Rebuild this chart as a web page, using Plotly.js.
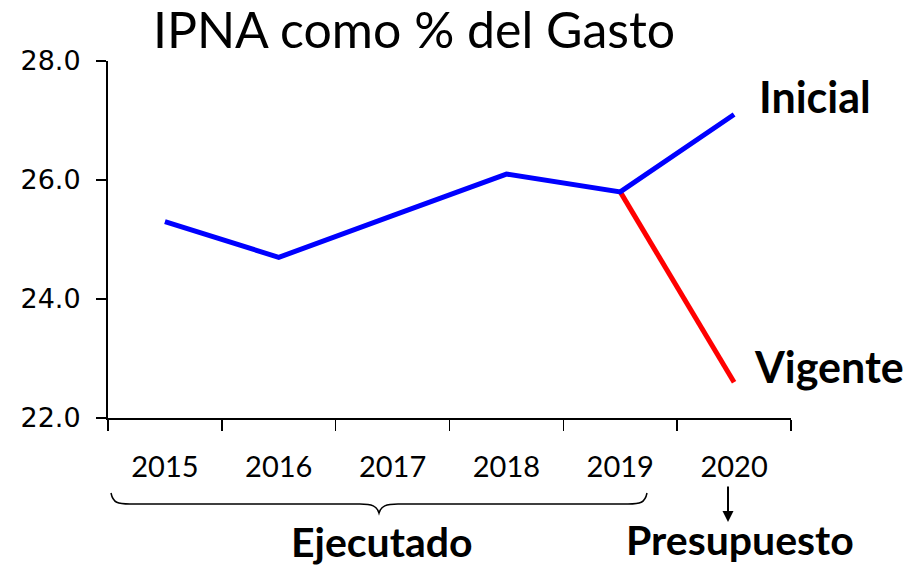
<!DOCTYPE html>
<html>
<head>
<meta charset="utf-8">
<script src="https://cdn.plot.ly/plotly-3.0.1.min.js"></script>
<style>html,body{margin:0;padding:0;background:#fff;}#chart{width:920px;height:568px;}</style>
</head>
<body>
<div id="chart"></div>
<script>
// Data
var years = ['2015', '2016', '2017', '2018', '2019', '2020'];
var inicialValues = [25.3, 24.7, 25.4, 26.1, 25.8, 27.1];
var vigenteYears = ['2019', '2020'];
var vigenteValues = [25.8, 22.6];
var yTicks = [22, 24, 26, 28];
var seriesLabels = ['Inicial', 'Vigente'];
var groupLabels = ['Ejecutado', 'Presupuesto'];
var titleText = 'IPNA como % del Gasto';

// Plot geometry (pixels)
var L = 108, R = 791, T = 61, B = 418;
function px(x) { return (x - L) / (R - L); }
function py(y) { return (B - y) / (B - T); }

var traces = [
  {x: vigenteYears, y: vigenteValues, type: 'scatter', mode: 'lines', name: seriesLabels[1],
   line: {color: '#ff0000', width: 5}, hoverinfo: 'skip'},
  {x: years, y: inicialValues, type: 'scatter', mode: 'lines', name: seriesLabels[0],
   line: {color: '#0000ff', width: 5}, hoverinfo: 'skip'}
];

var brace = 'M' + px(111) + ',' + py(493) +
  ' C' + px(113) + ',' + py(503) + ' ' + px(118) + ',' + py(504) + ' ' + px(130) + ',' + py(504) +
  ' L' + px(360) + ',' + py(504) +
  ' C' + px(372) + ',' + py(504) + ' ' + px(377) + ',' + py(506) + ' ' + px(379) + ',' + py(513) +
  ' C' + px(381) + ',' + py(506) + ' ' + px(386) + ',' + py(504) + ' ' + px(398) + ',' + py(504) +
  ' L' + px(628) + ',' + py(504) +
  ' C' + px(640) + ',' + py(504) + ' ' + px(645) + ',' + py(503) + ' ' + px(647) + ',' + py(493);

var boldFont = {family: 'Lato, sans-serif', size: 43, color: '#000'};
var boldFontLow = {family: 'Lato, sans-serif', size: 41, color: '#000'};

var layout = {
  width: 920, height: 568,
  margin: {l: L, r: 920 - R, t: T, b: 568 - B, pad: 0},
  paper_bgcolor: '#ffffff', plot_bgcolor: '#ffffff',
  showlegend: false,
  title: {text: titleText, font: {family: 'Lato, sans-serif', size: 50, color: '#000'},
          xref: 'container', x: 414 / 920, xanchor: 'center', yref: 'container', y: 1 - 30 / 568, yanchor: 'middle'},
  xaxis: {type: 'category', categoryorder: 'array', categoryarray: years, range: [-0.5, 5.5],
          showline: true, linecolor: '#000', linewidth: 2,
          ticks: 'outside', tickson: 'boundaries', ticklen: 11, tickwidth: 1.5, tickcolor: '#000',
          showgrid: false, zeroline: false, ticklabelstandoff: 22,
          tickfont: {family: 'Lato, sans-serif', size: 29, color: '#000'}, fixedrange: true},
  yaxis: {range: [22, 28], tickvals: yTicks, tickformat: '.1f', showline: true, linecolor: '#000', linewidth: 2,
          ticks: 'outside', ticklen: 10, tickwidth: 1.5, tickcolor: '#000', showgrid: false, zeroline: false,
          ticklabelstandoff: 10,
          tickfont: {family: 'DejaVu Sans, sans-serif', size: 27, color: '#000'}, fixedrange: true},
  shapes: [
    {type: 'path', xref: 'paper', yref: 'paper', path: brace, line: {color: '#000', width: 1.5}}
  ],
  annotations: [
    {xref: 'paper', yref: 'paper', x: px(757), y: py(96), xanchor: 'left', yanchor: 'middle', showarrow: false,
     text: '<b>' + seriesLabels[0] + '</b>', font: boldFont},
    {xref: 'paper', yref: 'paper', x: px(752), y: py(366), xanchor: 'left', yanchor: 'middle', showarrow: false,
     text: '<b>' + seriesLabels[1] + '</b>', font: boldFont},
    {xref: 'paper', yref: 'paper', x: px(382), y: py(541), xanchor: 'center', yanchor: 'middle', showarrow: false,
     text: '<b>' + groupLabels[0] + '</b>', font: boldFontLow},
    {xref: 'paper', yref: 'paper', x: px(740), y: py(539), xanchor: 'center', yanchor: 'middle', showarrow: false,
     text: '<b>' + groupLabels[1] + '</b>', font: boldFontLow},
    {xref: 'paper', yref: 'paper', x: px(728), y: py(522), text: '', showarrow: true,
     axref: 'pixel', ayref: 'pixel', ax: 0, ay: -37, arrowhead: 2, arrowsize: 1.1, arrowwidth: 2, arrowcolor: '#000'}
  ]
};

Plotly.newPlot('chart', traces, layout, {displayModeBar: false, staticPlot: true});
</script>
</body>
</html>
